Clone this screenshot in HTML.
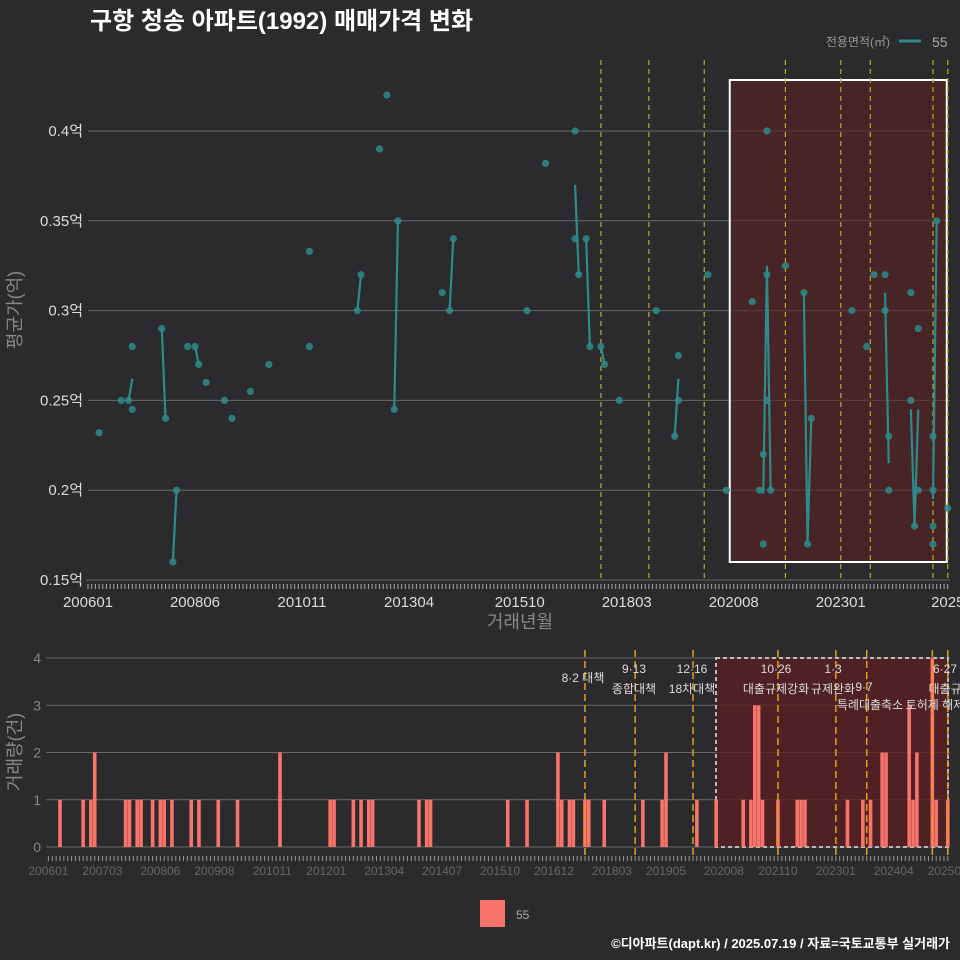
<!DOCTYPE html>
<html><head><meta charset="utf-8"><style>
body{margin:0;background:#2b2b2d;}
svg{display:block;font-family:"Liberation Sans","Noto Sans CJK KR",sans-serif;}
</style></head><body>
<svg id="c" width="960" height="960" viewBox="0 0 960 960">
<rect width="960" height="960" fill="#2b2b2d"/>
<text x="90" y="29" fill="#fff" font-size="24" font-weight="bold">구항 청송 아파트(1992) 매매가격 변화</text>
<text x="890" y="46" fill="#999" font-size="12" text-anchor="end">전용면적(㎡)</text>
<line x1="899" y1="41" x2="921" y2="41" stroke="#2e8b8b" stroke-width="3"/>
<text x="932" y="47" fill="#aaa" font-size="14">55</text>
<g id="top"></g>
<g id="bot"></g>
<rect x="480" y="900" width="25" height="27" fill="#f8736a"/>
<text x="516" y="919" fill="#aaa" font-size="12">55</text>
<text x="950" y="948" fill="#fff" font-size="13" font-weight="bold" text-anchor="end">©디아파트(dapt.kr) / 2025.07.19 / 자료=국토교통부 실거래가</text>
</svg>
<script>
// ---- data ----
const priceMonths = ["200604","200610","200612","200701","200701","200709","200710","200712","200801","200804","200806","200807","200809","200902","200904","200909","201002","201101","201101","201202","201203","201208","201210","201212","201301","201401","201403","201404","201512","201605","201701","201701","201702","201704","201705","201708","201709","201801","201811","201904","201905","201905","202001","202006","202101","202103","202104","202104","202105","202105","202105","202106","202110","202203","202204","202205","202304","202308","202310","202401","202401","202402","202402","202408","202408","202409","202410","202410","202502","202502","202502","202502","202503","202506"];
const priceValues = [0.232,0.25,0.25,0.245,0.28,0.29,0.24,0.16,0.2,0.28,0.28,0.27,0.26,0.25,0.24,0.255,0.27,0.333,0.28,0.3,0.32,0.39,0.42,0.245,0.35,0.31,0.3,0.34,0.3,0.382,0.4,0.34,0.32,0.34,0.28,0.28,0.27,0.25,0.3,0.23,0.25,0.275,0.32,0.2,0.305,0.2,0.22,0.17,0.4,0.32,0.25,0.2,0.325,0.31,0.17,0.24,0.3,0.28,0.32,0.32,0.3,0.23,0.2,0.31,0.25,0.18,0.29,0.2,0.23,0.2,0.18,0.17,0.35,0.19];
const lineMonths = [["200612","200701"],["200709","200710"],["200712","200801"],["200806","200807"],["201202","201203"],["201212","201301"],["201403","201404"],["201701","201702"],["201704","201705"],["201708","201709"],["201904","201905"],["202104","202105","202106"],["202203","202204","202205"],["202401","202402"],["202408","202409","202410"],["202502","202503"]];
const lineValues = [[0.25,0.262],[0.29,0.24],[0.16,0.2],[0.28,0.27],[0.3,0.32],[0.245,0.35],[0.3,0.34],[0.37,0.32],[0.34,0.28],[0.28,0.27],[0.23,0.262],[0.198,0.325,0.2],[0.31,0.17,0.24],[0.31,0.215],[0.245,0.18,0.245],[0.195,0.35]];
const countMonths = ["200604","200610","200612","200701","200709","200710","200712","200801","200804","200806","200807","200809","200902","200904","200909","201002","201101","201202","201203","201208","201210","201212","201301","201401","201403","201404","201512","201605","201701","201702","201704","201705","201708","201709","201801","201811","201904","201905","202001","202006","202101","202103","202104","202105","202106","202110","202203","202204","202205","202304","202308","202310","202401","202402","202408","202409","202410","202502","202503","202506"];
const countValues = [1,1,1,2,1,1,1,1,1,1,1,1,1,1,1,1,2,1,1,1,1,1,1,1,1,1,1,1,2,1,1,1,1,1,1,1,1,2,1,1,1,1,3,3,1,1,1,1,1,1,1,1,2,2,3,1,2,4,1,1];
const eventMonths = ["201708","201809","201912","202110","202301","202309","202502","202506"];
const yTicksTop = [0.15,0.2,0.25,0.3,0.35,0.4];
const yTicksTopLabels = ["0.15억","0.2억","0.25억","0.3억","0.35억","0.4억"];
const xTicksTop = ["200601","200806","201011","201304","201510","201803","202008","202301","202506"];
const xTicksTopLabels = ["200601","200806","201011","201304","201510","201803","202008","202301","2025"];
const xTicksBot = ["200601","200703","200806","200908","201011","201201","201304","201407","201510","201612","201803","201905","202008","202110","202301","202404","202506"];
const yTicksBot = [0,1,2,3,4];
const highlightStart = "202008", highlightEnd = "202506";

// ---- scales ----
const NS="http://www.w3.org/2000/svg";
const mi = s => (parseInt(s.slice(0,4))-2006)*12 + parseInt(s.slice(4,6))-1;
const xT = s => 88 + mi(s)*3.69;
const yT = v => 131 + (0.4 - v)/0.05*89.8;
const xB = s => 48.4 + mi(s)*3.86;
const yB = v => 847 - v*47.25;
function mk(parent, tag, attrs){const e=document.createElementNS(NS,tag);for(const k in attrs)e.setAttribute(k,attrs[k]);parent.appendChild(e);return e;}
const gTop=document.getElementById('top'), gBot=document.getElementById('bot');

// ---- top chart ----
yTicksTop.forEach((v,i)=>{
  const l=mk(gTop,'line',{x1:88,x2:950,y1:yT(v),y2:yT(v),stroke:'#6a6a6a','stroke-width':1});
  
  
  const t=mk(gTop,'text',{x:83,y:yT(v)+5,fill:'#ddd','font-size':15,'text-anchor':'end'});
  t.textContent=yTicksTopLabels[i];
  
  
});
const axT=mk(gTop,'line',{x1:86,x2:950,y1:580,y2:580,stroke:'#666'});


for(let i=0;i<=233;i++){const tk=mk(gTop,'line',{x1:88+i*3.69,x2:88+i*3.69,y1:584,y2:589,stroke:'#aaa','stroke-width':1});

}
xTicksTop.forEach((m,i)=>{
  const t=mk(gTop,'text',{x:xT(m),y:607,fill:'#ddd','font-size':15,'text-anchor':'middle'});
  t.textContent=xTicksTopLabels[i];
  
  
});
const hb=mk(gTop,'rect',{x:xT(highlightStart)-4,y:80,width:xT(highlightEnd)-xT(highlightStart)+3,height:482,fill:'#5a1f22','fill-opacity':0.6,stroke:'#fff','stroke-width':2});


eventMonths.forEach(m=>{
  const l=mk(gTop,'line',{x1:xT(m),x2:xT(m),y1:60,y2:580,stroke:'#b8b020','stroke-width':1.2,'stroke-dasharray':'5,4'});
  
  
});
lineMonths.forEach((ms,k)=>{
  const d=ms.map((m,j)=>(j?'L':'M')+xT(m)+','+yT(lineValues[k][j])).join('');
  const p=mk(gTop,'path',{d:d,stroke:'#2e8b8b','stroke-width':2.2,fill:'none'});
  
  
});
priceMonths.forEach((m,i)=>{
  const c=mk(gTop,'circle',{cx:xT(m),cy:yT(priceValues[i]),r:3.6,fill:'#2e8b8b','fill-opacity':0.85});
  
  
});
const yl=mk(gTop,'text',{x:0,y:0,fill:'#888','font-size':18,'text-anchor':'middle',transform:'translate(21,310) rotate(-90)'});
yl.textContent='평균가(억)';


const xl=mk(gTop,'text',{x:520,y:628,fill:'#888','font-size':18,'text-anchor':'middle'});
xl.textContent='거래년월';



// ---- bottom chart ----
yTicksBot.forEach(v=>{
  const l=mk(gBot,'line',{x1:46,x2:950,y1:yB(v),y2:yB(v),stroke:'#6a6a6a'});
  
  
  const t=mk(gBot,'text',{x:41,y:yB(v)+5,fill:'#888','font-size':14,'text-anchor':'end'});
  t.textContent=v;
  
  
});
const hb2=mk(gBot,'rect',{x:716,y:658,width:232,height:189,fill:'#5a1f22','fill-opacity':0.8,stroke:'#bbb','stroke-width':2,'stroke-dasharray':'4,3'});


countMonths.forEach((m,i)=>{
  const r=mk(gBot,'rect',{x:xB(m)-1.8,y:yB(countValues[i]),width:3.6,height:countValues[i]*47.25,fill:'#f8736a'});
  
  
});
eventMonths.forEach(m=>{
  const l=mk(gBot,'line',{x1:xB(m),x2:xB(m),y1:650,y2:858,stroke:'#e0a020','stroke-width':1.5,'stroke-dasharray':'7,4'});
  
  
});
for(let i=0;i<=233;i++){const tk=mk(gBot,'line',{x1:48.4+i*3.86,x2:48.4+i*3.86,y1:856,y2:861,stroke:'#999'});

}
xTicksBot.forEach(m=>{
  const t=mk(gBot,'text',{x:xB(m),y:875,fill:'#666','font-size':12,'text-anchor':'middle'});
  t.textContent=m;
  
  
});
const annos=[["8·2 대책",583,682],["9·13",634,673],["종합대책",634,693],["12·16",692,673],["18차대책",692,693],["10·26",776,673],["대출규제강화",776,693],["1·3",833,673],["규제완화",833,693],["9·7",864,691],["특례대출축소",870,709],["토허제 해제",935,709],["6·27",945,673],["대출규",945,693]];
annos.forEach(a=>{
  const t=mk(gBot,'text',{x:a[1],y:a[2],fill:'#ddd','font-size':12,'text-anchor':'middle'});
  t.textContent=a[0];
  
  
});
const byl=mk(gBot,'text',{x:0,y:0,fill:'#888','font-size':18,'text-anchor':'middle',transform:'translate(21,752) rotate(-90)'});
byl.textContent='거래량(건)';


</script>
</body></html>
